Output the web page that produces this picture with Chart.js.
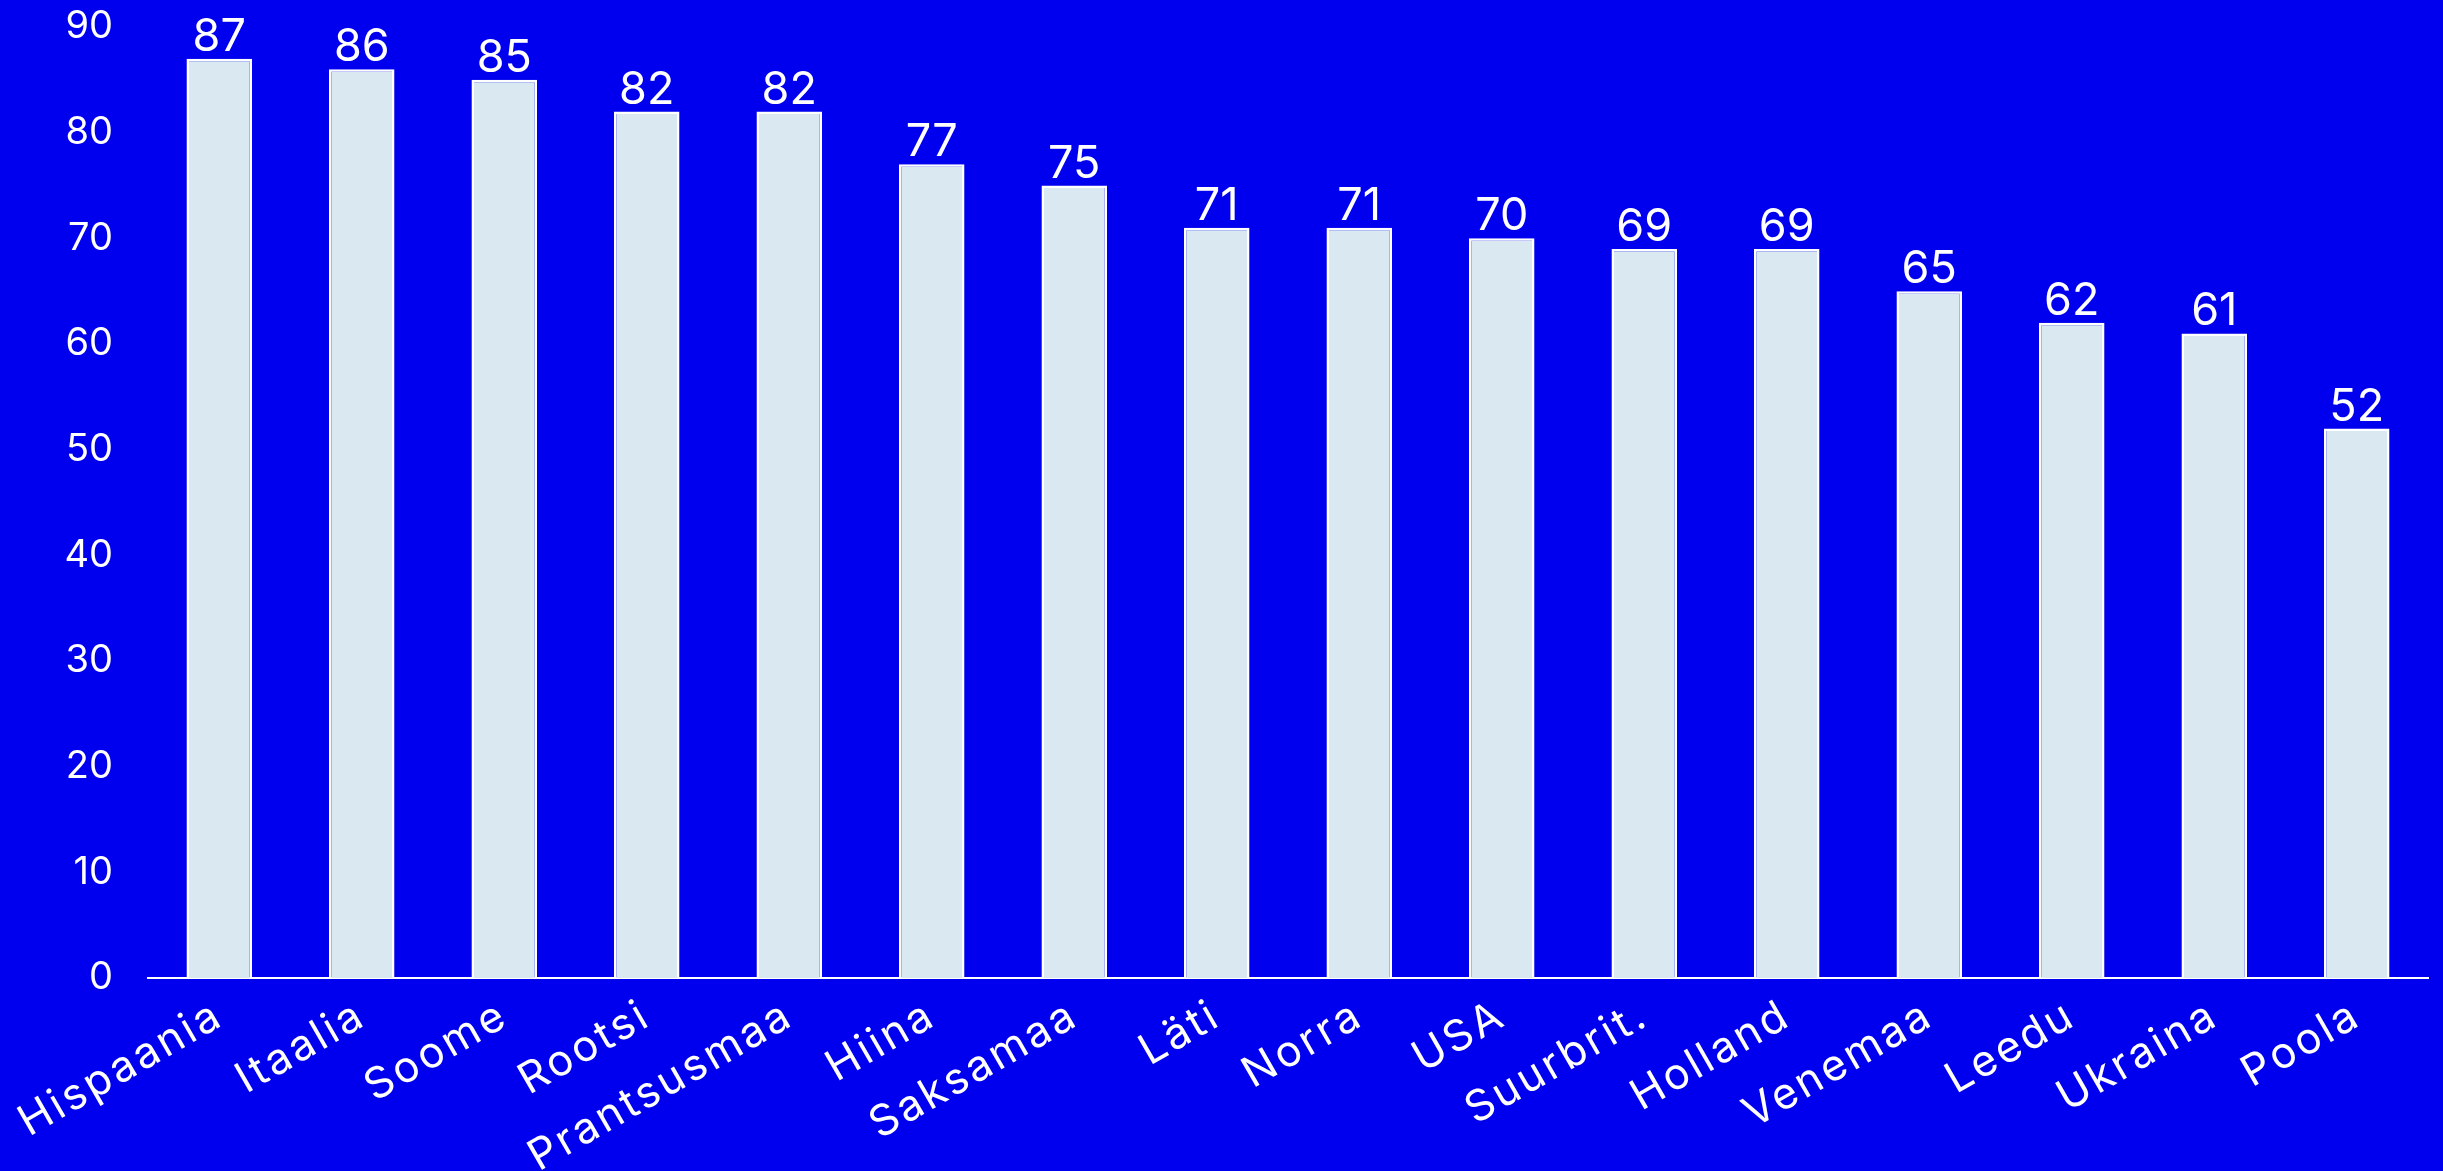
<!DOCTYPE html>
<html>
<head>
<meta charset="utf-8">
<script src="https://cdn.jsdelivr.net/npm/chart.js@4"></script>
<style>
  html, body { margin: 0; padding: 0; background: #0000ee; }
  #wrap { position: relative; width: 2443px; height: 1171px; }
</style>
</head>
<body>
<div id="wrap"><canvas id="c"></canvas></div>
<script>
const categories = ["Hispaania", "Itaalia", "Soome", "Rootsi", "Prantsusmaa", "Hiina", "Saksamaa", "Läti", "Norra", "USA", "Suurbrit.", "Holland", "Venemaa", "Leedu", "Ukraina", "Poola"];
const values = [87, 86, 85, 82, 82, 77, 75, 71, 71, 70, 69, 69, 65, 62, 61, 52];
const yTicks = [0, 10, 20, 30, 40, 50, 60, 70, 80, 90];

const FONT = "Inter";

const valueLabels = {
  id: "valueLabels",
  afterDatasetsDraw(chart) {
    const ctx = chart.ctx;
    const meta = chart.getDatasetMeta(0);
    ctx.save();
    ctx.fillStyle = "#ffffff";
    ctx.font = "45px " + FONT;
    ctx.textAlign = "center";
    ctx.textBaseline = "alphabetic";
    meta.data.forEach((el, i) => {
      ctx.fillText(String(values[i]), el.x, el.y - 8);
    });
    ctx.restore();
  }
};

new Chart(document.getElementById("c"), {
  type: "bar",
  data: {
    labels: categories,
    datasets: [{
      data: values,
      backgroundColor: "#dae8f2",
      borderColor: "#ffffff",
      borderWidth: 2.5,
      categoryPercentage: 1,
      barPercentage: 0.46
    }]
  },
  options: {
    responsive: true,
    maintainAspectRatio: false,
    animation: false,
    devicePixelRatio: 1,
    layout: { padding: { left: 0, right: 15, top: 27, bottom: 0 } },
    plugins: { legend: { display: false }, tooltip: { enabled: false } },
    scales: {
      x: {
        grid: { display: false },
        border: { display: true, color: "#ffffff", width: 2 },
        afterFit(axis) {
          axis.paddingLeft = 0;
          axis.paddingRight = 0;
          axis.height = 193;
          if (!axis._lsPatched) {
            const orig = axis.drawLabels.bind(axis);
            axis.drawLabels = function (area) {
              const ctx = this.ctx;
              const prev = ctx.letterSpacing;
              ctx.letterSpacing = "3px";
              orig(area);
              ctx.letterSpacing = prev || "0px";
            };
            axis._lsPatched = true;
          }
        },
        ticks: {
          color: "#ffffff",
          font: { family: FONT, size: 43 },
          minRotation: 30,
          maxRotation: 30,
          autoSkip: false,
          padding: 4
        }
      },
      y: {
        min: 0,
        max: 90,
        grid: { display: false, drawTicks: false },
        border: { display: false },
        afterBuildTicks(axis) { axis.ticks = yTicks.map(v => ({ value: v })); },
        afterFit(axis) {
          axis.paddingTop = 0;
          axis.paddingBottom = 0;
          axis.width = 148;
        },
        ticks: {
          color: "#ffffff",
          font: { family: FONT, size: 38 },
          padding: 35
        }
      }
    }
  },
  plugins: [valueLabels]
});
</script>
</body>
</html>
